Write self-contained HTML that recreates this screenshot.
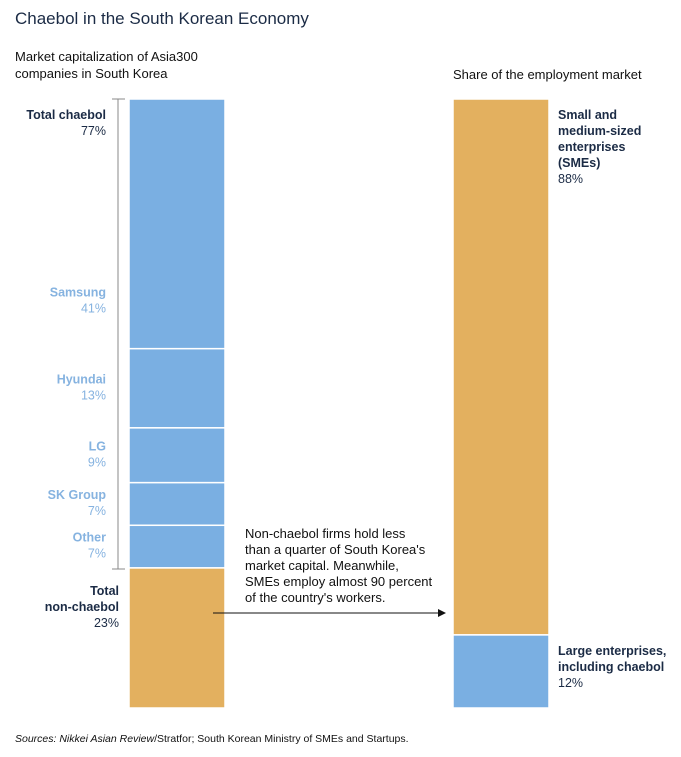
<!DOCTYPE html>
<html><head><meta charset="utf-8"><style>
body{margin:0;background:#fff;font-family:"Liberation Sans",sans-serif;}
svg text{font-family:"Liberation Sans",sans-serif;}
</style></head><body>
<svg id="c" width="681" height="752" xmlns="http://www.w3.org/2000/svg">
<text x="15" y="24" font-size="17" fill="#1b2b45">Chaebol in the South Korean Economy</text>
<text x="15" y="61" font-size="13" fill="#111">Market capitalization of Asia300</text>
<text x="15" y="78" font-size="13" fill="#111">companies in South Korea</text>
<text x="453" y="79" font-size="13" fill="#111">Share of the employment market</text>
<line x1="118" y1="99" x2="118" y2="569" stroke="#888"/>
<line x1="112" y1="99" x2="125" y2="99" stroke="#888"/>
<line x1="112" y1="569" x2="125" y2="569" stroke="#888"/>
<text x="106" y="119" font-size="12.5" font-weight="bold" fill="#1b2b45" text-anchor="end">Total chaebol</text>
<text x="106" y="135" font-size="12.5" fill="#1b2b45" text-anchor="end">77%</text>
<g id="bars"></g>
<text x="245" y="538" font-size="13" fill="#111">Non-chaebol firms hold less</text>
<text x="245" y="554" font-size="13" fill="#111">than a quarter of South Korea's</text>
<text x="245" y="570" font-size="13" fill="#111">market capital. Meanwhile,</text>
<text x="245" y="586" font-size="13" fill="#111">SMEs employ almost 90 percent</text>
<text x="245" y="602" font-size="13" fill="#111">of the country's workers.</text>
<line x1="213" y1="613" x2="440" y2="613" stroke="#111"/>
<polygon points="446,613 438,609 438,617" fill="#111"/>
<text x="15" y="742" font-size="10.5" fill="#111"><tspan font-style="italic">Sources: Nikkei Asian Review</tspan>/Stratfor; South Korean Ministry of SMEs and Startups.</text>
</svg>
<script>
const leftCats=["Samsung","Hyundai","LG","SK Group","Other","Total non-chaebol"];
const leftVals=[41,13,9,7,7,23];
const rightCats=["Small and medium-sized enterprises (SMEs)","Large enterprises, including chaebol"];
const rightVals=[88,12];
const BLUE="#7aafe2",GOLD="#e3b05f";
const top0=99,H=609;
const y=v=>v/100*H;
const g=document.getElementById('bars');
const NS="http://www.w3.org/2000/svg";
function mk(t,a){const e=document.createElementNS(NS,t);for(const k in a)e.setAttribute(k,a[k]);g.appendChild(e);return e;}
function txt(x,yy,s,bold,col,anchor){const e=mk('text',{x:x,y:yy,'font-size':12.5,fill:col,'text-anchor':anchor});if(bold)e.setAttribute('font-weight','bold');e.textContent=s;return e;}
let acc=0;
leftVals.forEach((v,i)=>{
  const y0=top0+y(acc),h=y(v);
  const r=mk('rect',{x:129,y:y0,width:96,height:h,fill:i===5?GOLD:BLUE,stroke:"#fff","stroke-width":1.5});
  
  
  if(i<5){
    const cy=(i===0)?y0+h-52:y0+h/2-5;
    const a=txt(106,cy,leftCats[i],true,"#86b3e0","end");
    
    
    const b=txt(106,cy+16,v+"%",false,"#86b3e0","end");
    
    
  } else {
    const l1=txt(119,y0+27,"Total",true,"#1b2b45","end");
    
    
    const l2=txt(119,y0+43,"non-chaebol",true,"#1b2b45","end");
    
    
    const l3=txt(119,y0+59,v+"%",false,"#1b2b45","end");
    
    
  }
  acc+=v;
});
acc=0;
const rLines=[["Small and","medium-sized","enterprises","(SMEs)"],["Large enterprises,","including chaebol"]];
rightVals.forEach((v,i)=>{
  const y0=top0+y(acc),h=y(v);
  const r=mk('rect',{x:453,y:y0,width:96,height:h,fill:i===0?GOLD:BLUE,stroke:"#fff","stroke-width":1.5});
  
  
  let ly=y0+20;
  rLines[i].forEach(s=>{const t=txt(558,ly,s,true,"#1b2b45","start");
    
    
    ly+=16;});
  const t=txt(558,ly,v+"%",false,"#1b2b45","start");
  
  
  acc+=v;
});
</script>
</body></html>
